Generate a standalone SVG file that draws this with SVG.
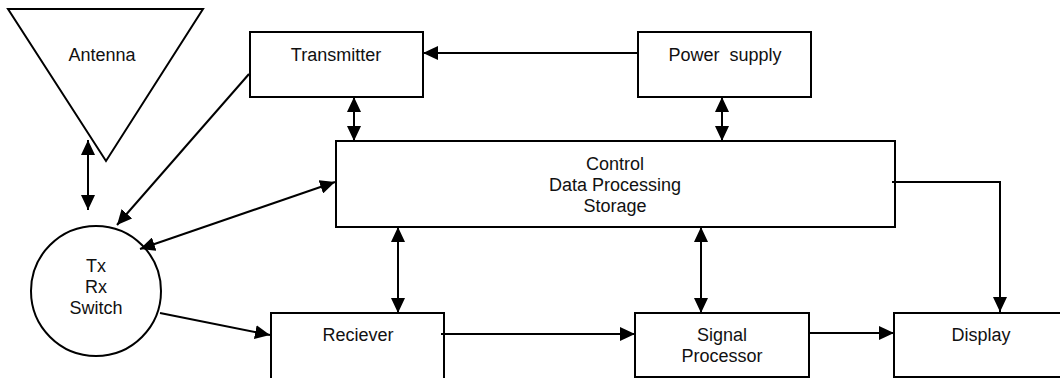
<svg xmlns="http://www.w3.org/2000/svg" width="1060" height="378" viewBox="0 0 1060 378">
<style>
.box{fill:#fff;stroke:#000;stroke-width:2}
.t{font-family:"Liberation Sans",Arial,sans-serif;font-size:18px;fill:#111;text-anchor:middle}
.c{fill:none;stroke:#000;stroke-width:2}
</style>
<defs>
<marker id="ah" viewBox="0 0 15 14" markerWidth="15" markerHeight="14" refX="15" refY="7" orient="auto-start-reverse" markerUnits="userSpaceOnUse">
<path d="M0,0 L15,7 L0,14 z" fill="#000"/>
</marker>
</defs>
<rect width="1060" height="378" fill="#fff"/>
<g id="antenna">
<polygon class="box" points="8,9 203,9 106,161"/>
<text class="t" x="102" y="61">Antenna</text>
</g>
<g id="transmitter">
<rect class="box" x="250" y="32" width="173" height="65"/>
<text class="t" x="336" y="61">Transmitter</text>
</g>
<g id="power-supply">
<rect class="box" x="638" y="32" width="173" height="65"/>
<text class="t" x="725" y="61" xml:space="preserve">Power  supply</text>
</g>
<g id="control">
<rect class="box" x="336" y="141" width="559" height="86"/>
<text class="t" x="615" y="169.5">Control</text>
<text class="t" x="615" y="190.5">Data Processing</text>
<text class="t" x="615" y="211.5">Storage</text>
</g>
<g id="switch">
<circle class="box" cx="96" cy="291" r="65"/>
<text class="t" x="96" y="272">Tx</text>
<text class="t" x="96" y="293">Rx</text>
<text class="t" x="96" y="314">Switch</text>
</g>
<g id="receiver">
<rect class="box" x="271" y="313" width="173" height="70"/>
<text class="t" x="358" y="341">Reciever</text>
</g>
<g id="signal-processor">
<rect class="box" x="635" y="313" width="174" height="64"/>
<text class="t" x="722" y="341">Signal</text>
<text class="t" x="722" y="362">Processor</text>
</g>
<g id="display">
<rect class="box" x="894" y="313" width="180" height="64"/>
<text class="t" x="981" y="341">Display</text>
</g>
<g id="connectors">
<line class="c" x1="637" y1="53" x2="423" y2="53" marker-end="url(#ah)"/>
<line class="c" x1="354" y1="97" x2="354" y2="141" marker-start="url(#ah)" marker-end="url(#ah)"/>
<line class="c" x1="722" y1="97" x2="722" y2="141" marker-start="url(#ah)" marker-end="url(#ah)"/>
<line class="c" x1="88" y1="140" x2="88" y2="210" marker-start="url(#ah)" marker-end="url(#ah)"/>
<line class="c" x1="249" y1="74" x2="117" y2="225" marker-end="url(#ah)"/>
<line class="c" x1="140" y1="249" x2="335" y2="182" marker-start="url(#ah)" marker-end="url(#ah)"/>
<line class="c" x1="160" y1="313" x2="270" y2="335" marker-end="url(#ah)"/>
<line class="c" x1="398" y1="227" x2="398" y2="313" marker-start="url(#ah)" marker-end="url(#ah)"/>
<line class="c" x1="701" y1="227" x2="701" y2="313" marker-start="url(#ah)" marker-end="url(#ah)"/>
<line class="c" x1="441" y1="334" x2="635" y2="334" marker-end="url(#ah)"/>
<line class="c" x1="809" y1="333" x2="894" y2="333" marker-end="url(#ah)"/>
<polyline class="c" points="892,182 1000,182 1000,312" marker-end="url(#ah)"/>
</g>
</svg>
